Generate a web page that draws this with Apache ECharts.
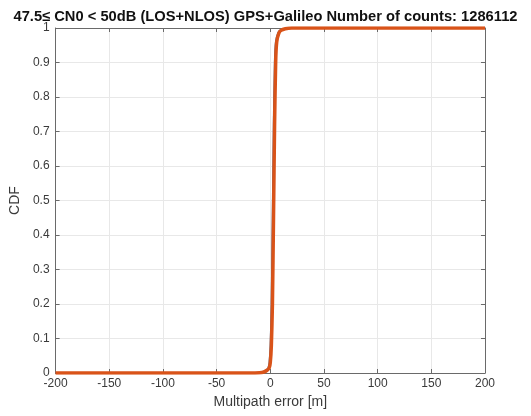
<!DOCTYPE html>
<html>
<head>
<meta charset="utf-8">
<script src="https://cdn.jsdelivr.net/npm/echarts@6/dist/echarts.min.js"></script>
<style>html,body{margin:0;padding:0;background:#fff;}#c{width:531px;height:416px;}</style>
</head>
<body>
<div id="c"></div>
<script>
var titleText = '47.5\u2264 CN0 < 50dB (LOS+NLOS) GPS+Galileo Number of counts: 1286112';
var xTicks = [-200, -150, -100, -50, 0, 50, 100, 150, 200];
var yTicks = [0, 0.1, 0.2, 0.3, 0.4, 0.5, 0.6, 0.7, 0.8, 0.9, 1];
// CDF curve (blue, thin) : error [m] and cumulative fraction
var blueX = [-200, -30, -10, -7, -4, -2, -1, 0, 1, 2, 3, 4, 5, 7, 9, 13, 20, 200];
var blueY = [0, 0, 0.001, 0.003, 0.008, 0.015, 0.03, 0.08, 0.2, 0.45, 0.72, 0.9, 0.96, 0.985, 0.993, 0.998, 1, 1];
// CDF curve (orange, thick)
var orangeX = [-200, -30, -10, -6, -3, -1, 0, 1, 2, 3, 4, 5, 6, 8, 10, 14, 20, 200];
var orangeY = [0, 0, 0.001, 0.003, 0.008, 0.015, 0.03, 0.08, 0.2, 0.45, 0.72, 0.9, 0.96, 0.985, 0.993, 0.998, 1, 1];

function pairs(xs, ys){ return xs.map(function(x,i){ return [x, ys[i]]; }); }

var axisColor = '#6a6a6a';
var labelColor = '#3a3a3a';
var font = 'Liberation Sans, Arial, sans-serif';

var chart = echarts.init(document.getElementById('c'));
chart.setOption({
  animation: false,
  backgroundColor: '#fff',
  title: {
    text: titleText, left: 'center', top: 4,
    textStyle: {fontFamily: font, fontSize: 14.7, fontWeight: 'bold', color: '#111'}
  },
  grid: {left: 54, right: 46, top: 28, bottom: 43, containLabel: false},
  xAxis: [{
    type: 'value', min: -200, max: 200, interval: 50,
    name: 'Multipath error [m]', nameLocation: 'middle', nameGap: 21,
    nameTextStyle: {fontFamily: font, fontSize: 14, color: labelColor},
    axisLine: {show: true, onZero: false, lineStyle: {color: axisColor, width: 1}},
    axisTick: {show: true, inside: true, length: 4, lineStyle: {color: axisColor}},
    axisLabel: {fontFamily: font, fontSize: 12, color: labelColor, margin: 5},
    splitLine: {show: true, lineStyle: {color: '#e8e8e8', width: 1}}
  }, {
    type: 'value', position: 'top', min: -200, max: 200, interval: 50,
    axisLine: {show: true, onZero: false, lineStyle: {color: axisColor, width: 1}},
    axisTick: {show: true, inside: true, length: 4, lineStyle: {color: axisColor}},
    axisLabel: {show: false}, splitLine: {show: false}
  }],
  yAxis: [{
    type: 'value', min: 0, max: 1, interval: 0.1,
    name: 'CDF', nameLocation: 'middle', nameGap: 32,
    nameTextStyle: {fontFamily: font, fontSize: 14, color: labelColor},
    axisLine: {show: true, onZero: false, lineStyle: {color: axisColor, width: 1}},
    axisTick: {show: true, inside: true, length: 4, lineStyle: {color: axisColor}},
    axisLabel: {fontFamily: font, fontSize: 12, color: labelColor, margin: 6,
      formatter: function(v){ return String(Math.round(v*10)/10); }},
    splitLine: {show: true, lineStyle: {color: '#e8e8e8', width: 1}}
  }, {
    type: 'value', position: 'right', min: 0, max: 1, interval: 0.1,
    axisLine: {show: true, onZero: false, lineStyle: {color: axisColor, width: 1}},
    axisTick: {show: true, inside: true, length: 4, lineStyle: {color: axisColor}},
    axisLabel: {show: false}, splitLine: {show: false}
  }],
  series: [{
    type: 'line', data: pairs(blueX, blueY), showSymbol: false, smooth: 0.2,
    lineStyle: {color: '#4f6b8f', width: 1.5}, z: 2
  }, {
    type: 'line', data: pairs(orangeX, orangeY), showSymbol: false, smooth: 0.2,
    lineStyle: {color: '#d95319', width: 3.5, join: 'round'}, z: 3
  }]
});
</script>
</body>
</html>
